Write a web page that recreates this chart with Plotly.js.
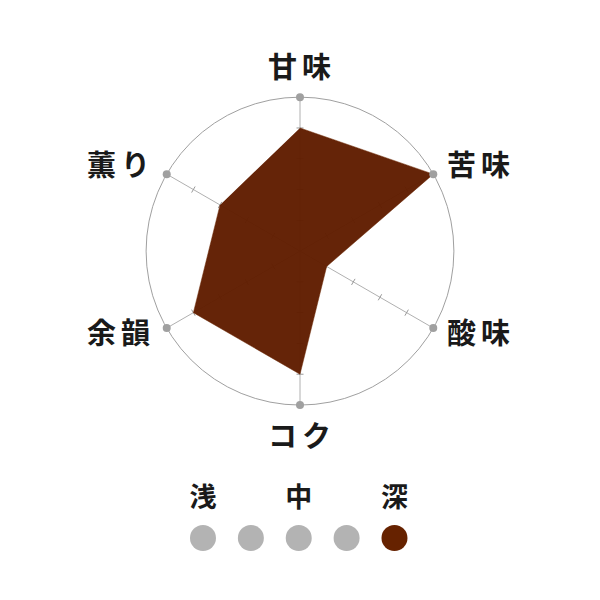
<!DOCTYPE html>
<html>
<head>
<meta charset="utf-8">
<script src="https://cdn.plot.ly/plotly-3.0.1.min.js"></script>
<style>
  html, body { margin: 0; padding: 0; background: #ffffff; }
  #chart { width: 600px; height: 600px; }
  .annotation-text { letter-spacing: 5px; }
</style>
</head>
<body>
<div id="chart"></div>
<script>
// ---- data ----
var categories = ['甘味', '苦味', '酸味', 'コク', '余韻', '薫り'];
var values = [4, 5, 1, 4, 4, 3];
var maxValue = 5;
var tickValues = [1, 2, 3, 4];
var roastSteps = [1, 2, 3, 4, 5];
var roastLevel = 5;
var roastLabels = ['浅', '中', '深'];
var roastLabelSteps = [1, 3, 5];

// ---- styles ----
var brown = '#662200';
var gray = '#b3b3b3';
var fontFamily = '"Noto Sans CJK JP", "Noto Sans", sans-serif';

// tick marks along every spoke
var tickR = [], tickTheta = [], tickAngle = [];
categories.forEach(function (c, i) {
  tickValues.forEach(function (t) {
    tickR.push(t);
    tickTheta.push(c);
    tickAngle.push(i * 360 / categories.length);
  });
});

var traces = [
  {
    type: 'scatterpolar',
    r: tickR,
    theta: tickTheta,
    mode: 'markers',
    marker: { symbol: 'line-ew', size: 5, angle: tickAngle, color: '#999', line: { color: '#999', width: 1 } },
    hoverinfo: 'skip',
    showlegend: false
  },
  {
    type: 'scatterpolar',
    r: values,
    theta: categories,
    mode: 'lines',
    fill: 'toself',
    fillcolor: 'rgba(96,29,0,0.97)',
    line: { color: '#6e2a06', width: 0.5 },
    showlegend: false
  },
  {
    type: 'scatterpolar',
    r: categories.map(function () { return maxValue; }),
    theta: categories,
    mode: 'markers',
    marker: { size: 8, color: '#a0a0a0' },
    cliponaxis: false,
    showlegend: false
  },
  {
    type: 'scatter',
    x: roastSteps,
    y: roastSteps.map(function () { return 0; }),
    mode: 'markers',
    marker: { size: 26, color: roastSteps.map(function (s) { return s === roastLevel ? brown : gray; }) },
    xaxis: 'x', yaxis: 'y',
    showlegend: false
  },
  {
    type: 'scatter',
    x: roastLabelSteps,
    y: roastLabelSteps.map(function () { return 1; }),
    mode: 'text',
    text: roastLabels,
    textfont: { family: fontFamily, size: 27, color: '#1a1a1a', weight: 700 },
    xaxis: 'x', yaxis: 'y',
    showlegend: false
  }
];

// label positions (paper coords) for each category
var labelPos = [
  { x: 0.504, y: 0.891, xanchor: 'center' },
  { x: 0.742, y: 0.728, xanchor: 'left' },
  { x: 0.742, y: 0.448, xanchor: 'left' },
  { x: 0.503, y: 0.276, xanchor: 'center' },
  { x: 0.262, y: 0.448, xanchor: 'right' },
  { x: 0.262, y: 0.728, xanchor: 'right' }
];

var annotations = categories.map(function (c, i) {
  return {
    text: c, xref: 'paper', yref: 'paper',
    x: labelPos[i].x, y: labelPos[i].y,
    xanchor: labelPos[i].xanchor, yanchor: 'middle',
    showarrow: false,
    font: { family: fontFamily, size: 29, color: '#1a1a1a', weight: 700 }
  };
});

var layout = {
  width: 600, height: 600,
  margin: { l: 0, r: 0, t: 0, b: 0 },
  paper_bgcolor: '#ffffff',
  plot_bgcolor: '#ffffff',
  showlegend: false,
  polar: {
    domain: { x: [0.2433, 0.7567], y: [0.325, 0.838] },
    bgcolor: 'rgba(0,0,0,0)',
    radialaxis: {
      range: [0, maxValue], showgrid: false, showline: false,
      showticklabels: false, ticks: ''
    },
    angularaxis: {
      rotation: 90, direction: 'clockwise',
      showgrid: true, gridcolor: '#b0b0b0', gridwidth: 1,
      showline: true, linecolor: '#a0a0a0', linewidth: 1,
      showticklabels: false, ticks: ''
    }
  },
  xaxis: {
    domain: [0, 1], range: [-3.24, 9.293],
    visible: false, fixedrange: true
  },
  yaxis: {
    domain: [0, 0.25], range: [-1.632, 2.316],
    visible: false, fixedrange: true
  },
  annotations: annotations
};

Plotly.newPlot('chart', traces, layout, { staticPlot: true, displayModeBar: false });
</script>
</body>
</html>
